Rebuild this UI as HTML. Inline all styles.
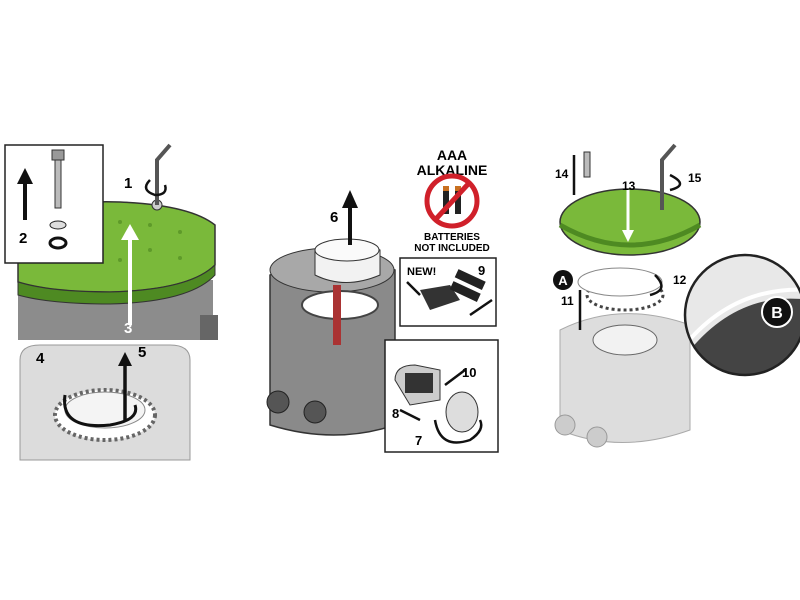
<!DOCTYPE html>
<html><head><meta charset="utf-8"><style>
html,body{margin:0;padding:0;background:#fff;width:800px;height:600px;overflow:hidden}
svg{display:block}
text{font-family:"Liberation Sans",sans-serif;font-weight:bold}
</style></head><body>
<svg width="800" height="600" viewBox="0 0 800 600" xmlns="http://www.w3.org/2000/svg">
<defs><clipPath id="mag"><circle cx="745" cy="315" r="60"/></clipPath></defs>
<!-- LEFT: box body -->
<rect x="18" y="280" width="195" height="60" fill="#8c8c8c"/>
<rect x="200" y="315" width="18" height="25" fill="#666"/>
<!-- green lid -->
<path d="M18 215 Q60 200 120 202 Q190 205 215 225 L215 265 Q190 290 110 292 Q50 292 18 282 Z" fill="#7ab93a" stroke="#333" stroke-width="1.5"/>
<path d="M18 282 Q50 292 110 292 Q190 290 215 265 L215 275 Q190 302 110 304 Q50 304 18 295 Z" fill="#4e8a22" stroke="#333"/>
<g fill="#5e9a2a">
<circle cx="120" cy="222" r="2"/><circle cx="150" cy="225" r="2"/><circle cx="180" cy="232" r="2"/>
<circle cx="150" cy="250" r="2"/><circle cx="180" cy="258" r="2"/><circle cx="120" cy="260" r="2"/>
</g>
<circle cx="157" cy="205" r="5" fill="#ccc" stroke="#333"/>
<path d="M157 205 L157 160 L170 145" stroke="#555" stroke-width="4" fill="none"/>
<path d="M150 180 Q140 190 155 195 Q168 195 165 185" stroke="#111" stroke-width="2.5" fill="none"/>
<text x="124" y="188" font-size="15">1</text>
<path d="M130 325 L130 235" stroke="#fff" stroke-width="4"/>
<path d="M121 240 L130 224 L139 240 Z" fill="#fff"/>
<text x="124" y="333" font-size="15" fill="#fff">3</text>
<!-- inset -->
<rect x="5" y="145" width="98" height="118" fill="#fff" stroke="#222" stroke-width="1.5"/>
<rect x="52" y="150" width="12" height="10" fill="#999" stroke="#333"/>
<rect x="55" y="160" width="6" height="48" fill="#bbb" stroke="#333"/>
<ellipse cx="58" cy="225" rx="8" ry="4" fill="#ddd" stroke="#222"/>
<ellipse cx="58" cy="243" rx="8" ry="5" fill="none" stroke="#111" stroke-width="3"/>
<path d="M25 220 L25 180" stroke="#111" stroke-width="4"/>
<path d="M17 184 L25 168 L33 184 Z" fill="#111"/>
<text x="19" y="243" font-size="15">2</text>
<!-- bottom-left -->
<path d="M20 360 Q20 345 40 345 L170 345 Q190 345 190 360 L190 460 L20 460 Z" fill="#dcdcdc" stroke="#999"/>
<ellipse cx="105" cy="415" rx="50" ry="25" fill="#fff" stroke="#666" stroke-width="4" stroke-dasharray="3 3"/>
<ellipse cx="105" cy="410" rx="40" ry="18" fill="#f4f4f4" stroke="#888"/>
<path d="M65 395 Q60 430 110 425 Q140 420 135 405" stroke="#111" stroke-width="3" fill="none"/>
<path d="M125 420 L125 362" stroke="#111" stroke-width="3.5"/>
<path d="M118 366 L125 352 L132 366 Z" fill="#111"/>
<text x="36" y="363" font-size="15">4</text>
<text x="138" y="357" font-size="15">5</text>
<!-- MIDDLE housing -->
<path d="M270 275 Q330 245 395 270 L395 425 Q335 445 270 425 Z" fill="#8a8a8a" stroke="#333" stroke-width="1.5"/>
<ellipse cx="332" cy="270" rx="62" ry="22" fill="#a8a8a8" stroke="#333"/>
<ellipse cx="340" cy="305" rx="38" ry="14" fill="#fff" stroke="#444" stroke-width="2"/>
<rect x="333" y="285" width="8" height="60" fill="#a33"/>
<circle cx="278" cy="402" r="11" fill="#555" stroke="#222"/>
<circle cx="315" cy="412" r="11" fill="#555" stroke="#222"/>
<path d="M315 250 Q345 235 380 250 L380 275 Q345 290 315 275 Z" fill="#f2f2f2" stroke="#333"/>
<ellipse cx="347" cy="250" rx="32" ry="11" fill="#fafafa" stroke="#333"/>
<path d="M350 245 L350 205" stroke="#111" stroke-width="4"/>
<path d="M342 208 L350 190 L358 208 Z" fill="#111"/>
<text x="330" y="222" font-size="15">6</text>
<text x="452" y="160" font-size="14" text-anchor="middle">AAA</text>
<text x="452" y="175" font-size="14" text-anchor="middle">ALKALINE</text>
<circle cx="452" cy="201" r="25" fill="#fff" stroke="#d0202a" stroke-width="5"/>
<rect x="443" y="186" width="6" height="28" fill="#222"/><rect x="455" y="186" width="6" height="28" fill="#222"/>
<rect x="443" y="186" width="6" height="5" fill="#c87020"/><rect x="455" y="186" width="6" height="5" fill="#c87020"/>
<path d="M435 220 L470 182" stroke="#d0202a" stroke-width="5"/>
<text x="452" y="240" font-size="10" text-anchor="middle">BATTERIES</text>
<text x="452" y="251" font-size="10" text-anchor="middle">NOT INCLUDED</text>
<rect x="400" y="258" width="96" height="68" fill="#fff" stroke="#222" stroke-width="1.5"/>
<text x="407" y="275" font-size="11" font-weight="normal">NEW!</text>
<text x="478" y="275" font-size="13">9</text>
<path d="M420 290 L450 285 L460 300 L430 310 Z" fill="#333"/>
<rect x="455" y="275" width="30" height="9" fill="#222" transform="rotate(25 470 280)"/>
<rect x="450" y="287" width="30" height="9" fill="#222" transform="rotate(25 465 292)"/>
<path d="M407 282 L420 295" stroke="#111" stroke-width="2.5"/>
<path d="M492 300 L470 315" stroke="#111" stroke-width="2.5"/>
<rect x="385" y="340" width="113" height="112" fill="#fff" stroke="#222" stroke-width="1.5"/>
<path d="M395 380 Q395 365 415 365 L440 370 L440 400 L410 405 Z" fill="#ccc" stroke="#333"/>
<rect x="405" y="373" width="28" height="20" fill="#333"/>
<ellipse cx="462" cy="412" rx="16" ry="20" fill="#ddd" stroke="#333"/>
<path d="M465 370 L445 385" stroke="#111" stroke-width="2.5"/>
<text x="462" y="377" font-size="13">10</text>
<text x="392" y="418" font-size="13">8</text>
<path d="M400 410 L420 420" stroke="#111" stroke-width="2.5"/>
<text x="415" y="445" font-size="13">7</text>
<path d="M435 420 Q440 450 470 440 Q485 430 480 420" stroke="#111" stroke-width="2.5" fill="none"/>
<!-- RIGHT -->
<path d="M560 330 Q620 300 690 325 L690 430 Q620 455 560 430 Z" fill="#ddd" stroke="#aaa"/>
<circle cx="565" cy="425" r="10" fill="#ccc" stroke="#999"/>
<circle cx="597" cy="437" r="10" fill="#ccc" stroke="#999"/>
<ellipse cx="625" cy="340" rx="32" ry="15" fill="#f2f2f2" stroke="#666"/>
<ellipse cx="625" cy="295" rx="38" ry="15" fill="#fff" stroke="#444" stroke-width="3" stroke-dasharray="3 3"/>
<ellipse cx="620" cy="282" rx="42" ry="14" fill="#fff" stroke="#888"/>
<ellipse cx="630" cy="222" rx="70" ry="33" fill="#7ab93a" stroke="#333" stroke-width="1.5"/>
<path d="M560 225 Q630 265 700 225" stroke="#4e8a22" stroke-width="5" fill="none"/>
<path d="M628 190 L628 235" stroke="#fff" stroke-width="3"/>
<path d="M622 230 L628 242 L634 230 Z" fill="#fff"/>
<text x="622" y="190" font-size="12">13</text>
<path d="M662 210 L662 160 L675 145" stroke="#555" stroke-width="4" fill="none"/>
<path d="M670 175 Q690 185 670 190" stroke="#111" stroke-width="2.5" fill="none"/>
<text x="688" y="182" font-size="12">15</text>
<rect x="584" y="152" width="6" height="25" fill="#bbb" stroke="#333"/>
<path d="M574 155 L574 195" stroke="#111" stroke-width="2.5"/>
<text x="555" y="178" font-size="12">14</text>
<circle cx="563" cy="280" r="10" fill="#111"/>
<text x="563" y="285" font-size="13" fill="#fff" text-anchor="middle">A</text>
<text x="561" y="305" font-size="12">11</text>
<path d="M580 290 L580 330" stroke="#111" stroke-width="2.5"/>
<text x="673" y="284" font-size="12">12</text>
<path d="M655 275 Q670 290 650 295" stroke="#111" stroke-width="2.5" fill="none"/>
<circle cx="745" cy="315" r="60" fill="#e8e8e8"/>
<g clip-path="url(#mag)">
<path d="M690 350 Q740 290 810 300 L810 390 L745 387 Z" fill="#444"/>
<path d="M685 345 Q735 285 810 290" stroke="#fff" stroke-width="4" fill="none"/>
</g>
<circle cx="745" cy="315" r="60" fill="none" stroke="#222" stroke-width="2.5"/>
<circle cx="777" cy="312" r="15" fill="#111" stroke="#fff" stroke-width="2"/>
<text x="777" y="318" font-size="16" fill="#fff" text-anchor="middle">B</text>
</svg>
</body></html>
